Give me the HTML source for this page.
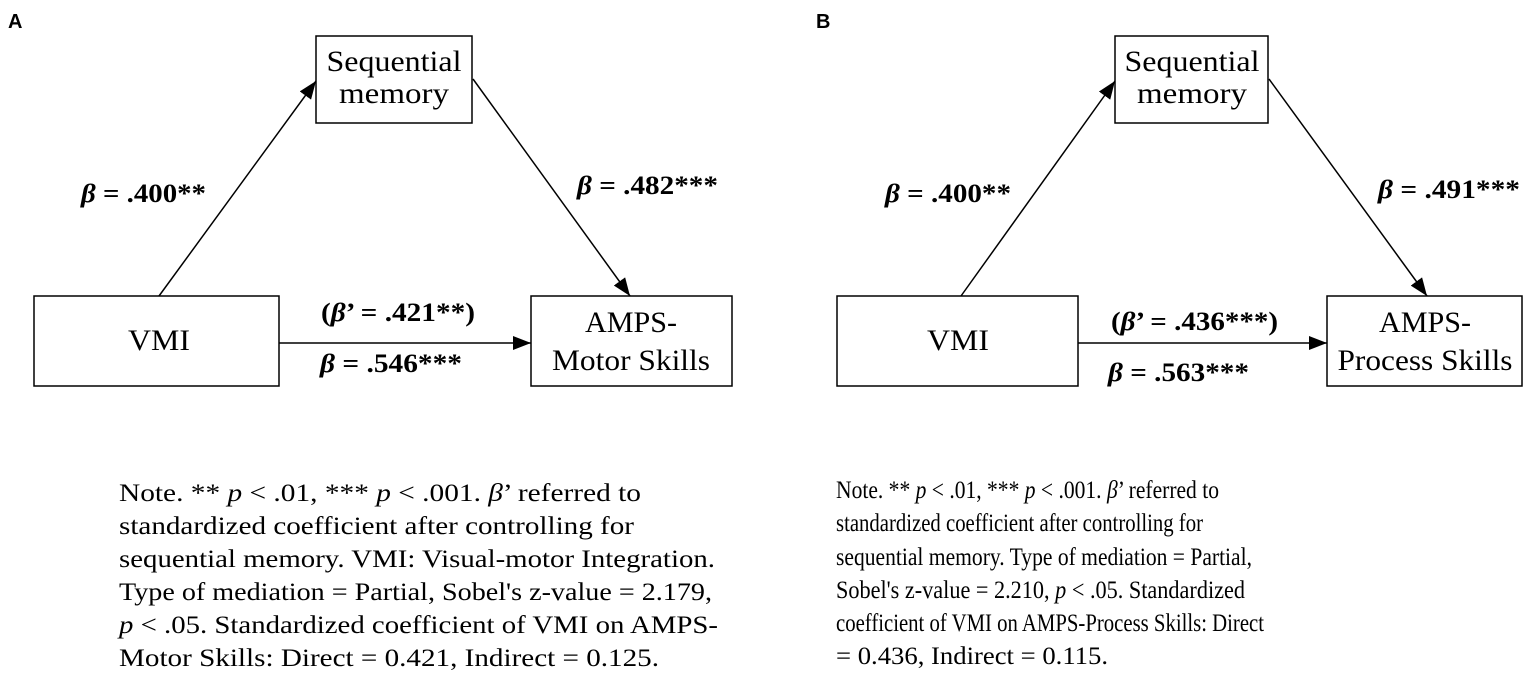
<!DOCTYPE html>
<html><head><meta charset="utf-8"><style>
html,body{margin:0;padding:0;background:#fff;}
svg{display:block;}
.bx{font-family:"Liberation Serif",serif;font-size:30px;fill:#000;}
.lb{font-family:"Liberation Serif",serif;font-size:26px;font-weight:bold;fill:#000;}
.nt{font-family:"Liberation Serif",serif;font-size:25px;fill:#000;}
.pl{font-family:"Liberation Sans",sans-serif;font-size:20px;font-weight:bold;fill:#000;}
</style></head><body>
<svg width="1535" height="682" viewBox="0 0 1535 682" xmlns="http://www.w3.org/2000/svg">
<defs>
<marker id="ah2" markerWidth="18" markerHeight="14" refX="18" refY="7" orient="auto" markerUnits="userSpaceOnUse" viewBox="0 0 18 14"><path d="M0,0 L18,7 L0,14 z" fill="#000"/></marker></defs>

<text class="pl" x="8" y="28">A</text>
<text class="pl" x="816" y="28">B</text>

<!-- Panel A -->
<g fill="none" stroke="#000" stroke-width="1.5">
<rect x="316" y="36" width="156" height="87"/>
<rect x="34" y="296" width="245" height="90"/>
<rect x="531" y="296" width="201" height="90"/>
<line x1="159" y1="296" x2="316" y2="81" marker-end="url(#ah2)"/>
<line x1="473" y1="79" x2="630" y2="296" marker-end="url(#ah2)"/>
<line x1="279" y1="343" x2="531" y2="343" marker-end="url(#ah2)"/>
</g>
<text class="bx" x="394" y="71" text-anchor="middle" textLength="135" lengthAdjust="spacingAndGlyphs">Sequential</text>
<text class="bx" x="394" y="103" text-anchor="middle" textLength="110" lengthAdjust="spacingAndGlyphs">memory</text>
<text class="bx" x="159" y="350" text-anchor="middle" textLength="62" lengthAdjust="spacingAndGlyphs">VMI</text>
<text class="bx" x="631" y="332" text-anchor="middle" textLength="92" lengthAdjust="spacingAndGlyphs">AMPS-</text>
<text class="bx" x="631" y="370" text-anchor="middle" textLength="158" lengthAdjust="spacingAndGlyphs">Motor Skills</text>
<text class="lb" x="81" y="202" textLength="125" lengthAdjust="spacingAndGlyphs"><tspan font-style="italic">β</tspan> = .400**</text>
<text class="lb" x="577" y="194" textLength="141" lengthAdjust="spacingAndGlyphs"><tspan font-style="italic">β</tspan> = .482***</text>
<text class="lb" x="321" y="321" textLength="154" lengthAdjust="spacingAndGlyphs">(<tspan font-style="italic">β</tspan>’ = .421**)</text>
<text class="lb" x="320" y="372" textLength="142" lengthAdjust="spacingAndGlyphs"><tspan font-style="italic">β</tspan> = .546***</text>

<g class="nt">
<text x="119" y="501" textLength="522" lengthAdjust="spacingAndGlyphs">Note. ** <tspan font-style="italic">p</tspan> &lt; .01, *** <tspan font-style="italic">p</tspan> &lt; .001.  <tspan font-style="italic">β</tspan>’ referred to</text>
<text x="119" y="534" textLength="515" lengthAdjust="spacingAndGlyphs">standardized  coefficient after controlling for</text>
<text x="119" y="567" textLength="596" lengthAdjust="spacingAndGlyphs">sequential memory. VMI: Visual-motor Integration.</text>
<text x="119" y="600" textLength="593" lengthAdjust="spacingAndGlyphs">Type of mediation = Partial, Sobel's z-value = 2.179,</text>
<text x="119" y="633" textLength="599" lengthAdjust="spacingAndGlyphs"><tspan font-style="italic">p</tspan> &lt; .05. Standardized  coefficient of VMI on AMPS-</text>
<text x="119" y="666" textLength="540" lengthAdjust="spacingAndGlyphs">Motor Skills: Direct = 0.421, Indirect = 0.125.</text>
</g>

<!-- Panel B -->
<g fill="none" stroke="#000" stroke-width="1.5">
<rect x="1115" y="36" width="153" height="87"/>
<rect x="837" y="296" width="241" height="90"/>
<rect x="1327" y="296" width="195" height="90"/>
<line x1="961" y1="296" x2="1115" y2="81" marker-end="url(#ah2)"/>
<line x1="1269" y1="79" x2="1427" y2="296" marker-end="url(#ah2)"/>
<line x1="1078" y1="343" x2="1327" y2="343" marker-end="url(#ah2)"/>
</g>
<text class="bx" x="1192" y="71" text-anchor="middle" textLength="135" lengthAdjust="spacingAndGlyphs">Sequential</text>
<text class="bx" x="1192" y="103" text-anchor="middle" textLength="110" lengthAdjust="spacingAndGlyphs">memory</text>
<text class="bx" x="958" y="350" text-anchor="middle" textLength="62" lengthAdjust="spacingAndGlyphs">VMI</text>
<text class="bx" x="1425" y="332" text-anchor="middle" textLength="92" lengthAdjust="spacingAndGlyphs">AMPS-</text>
<text class="bx" x="1425" y="370" text-anchor="middle" textLength="175" lengthAdjust="spacingAndGlyphs">Process Skills</text>
<text class="lb" x="885" y="202" textLength="126" lengthAdjust="spacingAndGlyphs"><tspan font-style="italic">β</tspan> = .400**</text>
<text class="lb" x="1378" y="198" textLength="142" lengthAdjust="spacingAndGlyphs"><tspan font-style="italic">β</tspan> = .491***</text>
<text class="lb" x="1111" y="330" textLength="167" lengthAdjust="spacingAndGlyphs">(<tspan font-style="italic">β</tspan>’ = .436***)</text>
<text class="lb" x="1108" y="381" textLength="141" lengthAdjust="spacingAndGlyphs"><tspan font-style="italic">β</tspan> = .563***</text>

<g class="nt">
<text x="836" y="498" textLength="383" lengthAdjust="spacingAndGlyphs">Note. ** <tspan font-style="italic">p</tspan> &lt; .01, *** <tspan font-style="italic">p</tspan> &lt; .001.  <tspan font-style="italic">β</tspan>’ referred to</text>
<text x="836" y="531" textLength="367" lengthAdjust="spacingAndGlyphs">standardized  coefficient after controlling for</text>
<text x="836" y="565" textLength="416" lengthAdjust="spacingAndGlyphs">sequential memory. Type of mediation = Partial,</text>
<text x="836" y="598" textLength="409" lengthAdjust="spacingAndGlyphs">Sobel's z-value = 2.210, <tspan font-style="italic">p</tspan> &lt; .05. Standardized</text>
<text x="836" y="631" textLength="428" lengthAdjust="spacingAndGlyphs">coefficient of VMI on AMPS-Process Skills: Direct</text>
<text x="836" y="664" textLength="272" lengthAdjust="spacingAndGlyphs">= 0.436, Indirect = 0.115.</text>
</g>
</svg>
</body></html>
